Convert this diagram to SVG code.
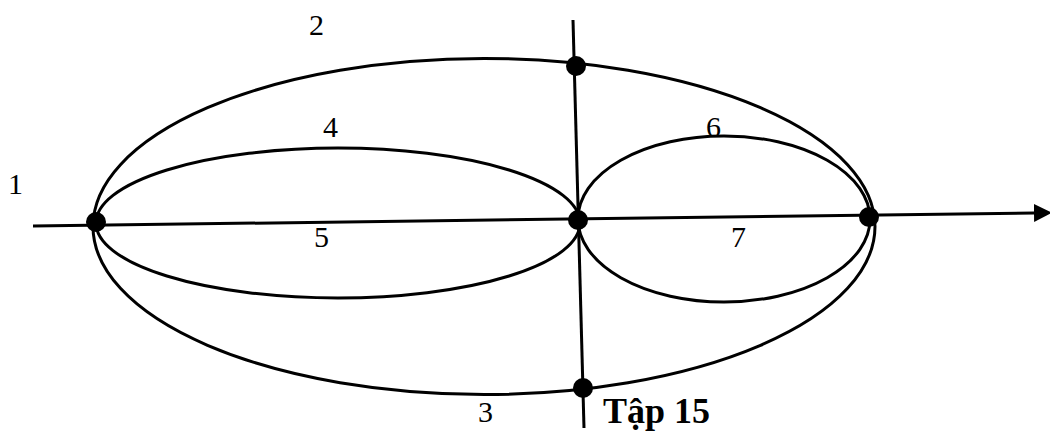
<svg xmlns="http://www.w3.org/2000/svg" width="1050" height="431" viewBox="0 0 1050 431">
<style>
.c{fill:none;stroke:#000;stroke-width:3}
.d{fill:#000}
.t{font-family:"Liberation Serif","Times New Roman",serif;font-size:30px;fill:#000}
.b{font-family:"Liberation Serif","Times New Roman",serif;font-size:36px;font-weight:bold;fill:#000}
</style>
<defs>
<marker id="ah" markerWidth="6" markerHeight="6" refX="0" refY="3" orient="auto" markerUnits="strokeWidth">
<path d="M0,0 L6,3 L0,6 Z" fill="#000"/>
</marker>
</defs>
<g id="connectors">
<line class="c" x1="33" y1="226" x2="1034" y2="213" marker-end="url(#ah)"/>
<line class="c" x1="573" y1="20" x2="584" y2="428"/>
</g>
<g id="ellipse-big"><ellipse class="c" cx="484" cy="226.5" rx="391" ry="168"/></g>
<g id="ellipse-left"><ellipse class="c" cx="338" cy="223" rx="242" ry="75"/></g>
<g id="ellipse-right"><ellipse class="c" cx="724" cy="219" rx="146" ry="83"/></g>
<g id="dots">
<circle class="d" cx="96" cy="222" r="10"/>
<circle class="d" cx="578" cy="220" r="10"/>
<circle class="d" cx="869" cy="217" r="10"/>
<circle class="d" cx="576" cy="66" r="10"/>
<circle class="d" cx="583" cy="388" r="10"/>
</g>
<g id="labels">
<text class="t" x="8" y="194">1</text>
<text class="t" x="309" y="35">2</text>
<text class="t" x="478" y="422">3</text>
<text class="t" x="323" y="137">4</text>
<text class="t" x="314" y="247">5</text>
<text class="t" x="706" y="137">6</text>
<text class="t" x="731" y="247">7</text>
<text class="b" x="603" y="423">Tập 15</text>
</g>
</svg>
